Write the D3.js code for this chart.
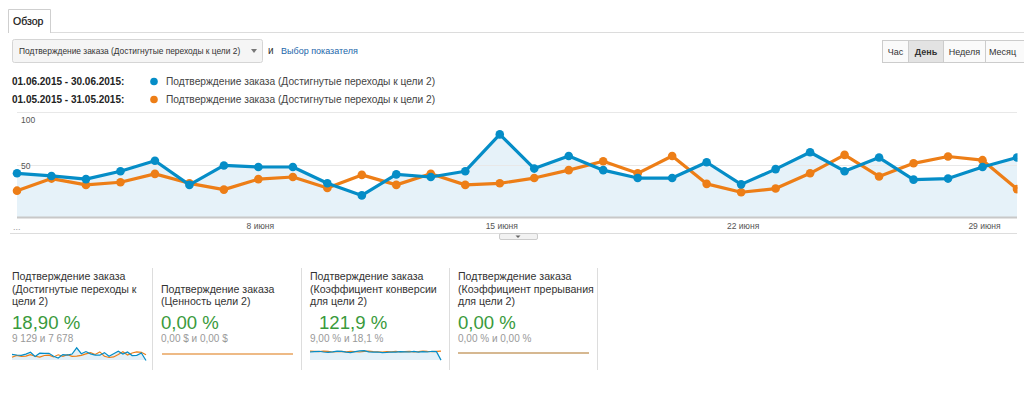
<!DOCTYPE html>
<html>
<head>
<meta charset="utf-8">
<script src="https://d3js.org/d3.v7.min.js"></script>
<style>
  body { margin: 0; background: #fff; }
  svg { display: block; font-family: "Liberation Sans", Arial, sans-serif; }
</style>
</head>
<body>
<svg width="1024" height="394"></svg>
<script>
// June 2015 (blue) vs May 2015 (orange), goal 2 completions per day
var juneValues = [42, 39.5, 36.5, 44, 54, 31, 49.5, 48, 48, 32.5, 21, 41, 38.5, 44, 79,
  46.5, 58.5, 45, 37.5, 37.5, 52.5, 31.5, 46, 62, 44, 57, 36, 37, 48, 57];
var mayValues = [25.5, 37, 31, 33.5, 41.5, 32.5, 26.5, 36.5, 38.5, 28, 40.5, 31, 41.5, 31, 32.5,
  37.5, 45, 53.5, 42, 58.5, 32, 24, 27.5, 42, 59.5, 39, 51.5, 58, 54.5, 27];
var tickDays = [7, 14, 21, 28];
var tickLabels = ["8 июня", "15 июня", "22 июня", "29 июня"];
var yTicks = [50, 100];

var legendRanges = ["01.06.2015 - 30.06.2015:", "01.05.2015 - 31.05.2015:"];
var metricName = "Подтверждение заказа (Достигнутые переходы к цели 2)";
var periodButtons = ["Час", "День", "Неделя", "Месяц"];

var cardTitles = [
  ["Подтверждение заказа", "(Достигнутые переходы к", "цели 2)"],
  ["Подтверждение заказа", "(Ценность цели 2)"],
  ["Подтверждение заказа", "(Коэффициент конверсии", "для цели 2)"],
  ["Подтверждение заказа", "(Коэффициент прерывания", "для цели 2)"]
];
var cardValues = ["18,90 %", "0,00 %", "121,9 %", "0,00 %"];
var cardSubs = ["9 129 и 7 678", "0,00 $ и 0,00 $", "9,00 % и 18,1 %", "0,00 % и 0,00 %"];

// sparklines of the scorecards
var spark1Blue = [42, 39, 37, 44, 54, 31, 49, 48, 48, 32, 22, 41, 38, 44, 79,
  46, 58, 45, 38, 38, 52, 32, 46, 60, 44, 56, 36, 37, 50, 8];
var spark1Orange = [26, 37, 31, 33, 41, 32, 27, 36, 38, 28, 40, 31, 41, 31, 33,
  37, 45, 52, 42, 56, 32, 25, 28, 42, 57, 39, 50, 56, 54, 40];
var spark3Blue = [50, 52, 54, 50, 48, 51, 55, 53, 49, 47, 52, 56, 58, 51, 49,
  50, 47, 48, 50, 49, 52, 51, 50, 53, 49, 52, 50, 54, 52, 5];
var spark3Orange = [55, 54, 52, 55, 53, 50, 52, 54, 51, 53, 52, 50, 53, 55, 52,
  51, 50, 52, 51, 53, 50, 52, 54, 51, 52, 55, 53, 52, 54, 55];

var blue = "#058dc7", orange = "#ed7e17";
var svg = d3.select("svg");

// ---- tab + toolbar
svg.append("line").attr("x1", 50).attr("x2", 1024).attr("y1", 32.5).attr("y2", 32.5).attr("stroke", "#dcdcdc");
svg.append("path").attr("d", "M8.5,33 V9.5 H50.5 V33").attr("fill", "#fff").attr("stroke", "#cfcfcf");
svg.append("text").attr("x", 13).attr("y", 25).attr("font-size", 10.5).attr("fill", "#111")
  .attr("stroke", "#111").attr("stroke-width", 0.2).text("Обзор");

svg.append("rect").attr("x", 12.5).attr("y", 39.5).attr("width", 250).attr("height", 23).attr("rx", 2)
  .attr("fill", "#f5f5f5").attr("stroke", "#d5d5d5");
svg.append("text").attr("x", 19).attr("y", 54).attr("font-size", 8.4).attr("fill", "#333").text(metricName);
svg.append("path").attr("d", "M251,49 h6 l-3,4 z").attr("fill", "#777");
svg.append("text").attr("x", 268).attr("y", 54).attr("font-size", 10).attr("fill", "#333").text("и");
svg.append("text").attr("x", 281).attr("y", 54).attr("font-size", 9).attr("fill", "#2266aa").text("Выбор показателя");

var btnX = [882, 908, 943, 985, 1030];
periodButtons.forEach(function (label, i) {
  var g = svg.append("g");
  g.append("rect").attr("x", btnX[i] + 0.5).attr("y", 40.5).attr("width", btnX[i + 1] - btnX[i]).attr("height", 22)
    .attr("fill", i === 1 ? "#e3e3e3" : "#fafafa").attr("stroke", "#cccccc");
  g.append("text").attr("x", i === 3 ? 989 : (btnX[i] + btnX[i + 1]) / 2 + 0.5).attr("y", 55)
    .attr("text-anchor", i === 3 ? "start" : "middle")
    .attr("font-size", 9).attr("font-weight", i === 1 ? "bold" : "normal").attr("fill", "#333")
    .text(label);
});

// ---- legend
[blue, orange].forEach(function (c, i) {
  var y = 85 + i * 18;
  svg.append("text").attr("x", 12).attr("y", y).attr("font-size", 10).attr("font-weight", "bold")
    .attr("fill", "#222").text(legendRanges[i]);
  svg.append("circle").attr("cx", 154).attr("cy", y - 3.5).attr("r", 3.8).attr("fill", c);
  svg.append("text").attr("x", 166).attr("y", y).attr("font-size", 10.2).attr("fill", "#444").text(metricName);
});

// ---- main chart
var x = d3.scaleLinear().domain([0, juneValues.length - 1]).range([17, 1017]);
var y = d3.scaleLinear().domain([0, 100]).range([217.5, 112.3]);

svg.append("defs").append("clipPath").attr("id", "clip")
  .append("rect").attr("x", 0).attr("y", 100).attr("width", 1017.5).attr("height", 130);

var plot = svg.append("g").attr("clip-path", "url(#clip)");

plot.append("path")
  .datum(juneValues)
  .attr("fill", "#e6f2f9")
  .attr("d", d3.area().x(function (d, i) { return x(i); }).y0(y(0)).y1(function (d) { return y(d); }));

plot.selectAll("line.grid")
  .data(yTicks)
  .enter()
  .append("line")
  .attr("class", "grid")
  .attr("x1", 17).attr("x2", 1017)
  .attr("y1", function (d) { return Math.round(y(d)) + 0.5; })
  .attr("y2", function (d) { return Math.round(y(d)) + 0.5; })
  .attr("stroke", "#e8e8e8");

plot.append("line").attr("x1", 17).attr("x2", 1017).attr("y1", 217.5).attr("y2", 217.5)
  .attr("stroke", "#c8c8c8").attr("stroke-width", 2);

svg.selectAll("text.ylab")
  .data(yTicks)
  .enter()
  .append("text")
  .attr("class", "ylab")
  .attr("x", 21)
  .attr("y", function (d) { return y(d) + (d === 100 ? 10.5 : 4.5); })
  .attr("font-size", 8.5)
  .attr("fill", "#555")
  .text(function (d) { return d; });

var line = d3.line().x(function (d, i) { return x(i); }).y(function (d) { return y(d); });

[[mayValues, orange], [juneValues, blue]].forEach(function (s, k) {
  plot.append("path").datum(s[0]).attr("fill", "none").attr("stroke", s[1])
    .attr("stroke-width", 3.2).attr("stroke-linejoin", "round").attr("d", line);
  plot.selectAll("circle.p" + k)
    .data(s[0])
    .enter()
    .append("circle")
    .attr("class", "p" + k)
    .attr("cx", function (d, i) { return x(i); })
    .attr("cy", function (d) { return y(d); })
    .attr("r", 4.3)
    .attr("fill", s[1]);
});

svg.selectAll("text.xlab")
  .data(tickDays)
  .enter()
  .append("text")
  .attr("class", "xlab")
  .attr("x", function (d) { return x(d) + 2; })
  .attr("y", 229)
  .attr("text-anchor", "middle")
  .attr("font-size", 8.5)
  .attr("fill", "#555")
  .text(function (d, i) { return tickLabels[i]; });
svg.append("text").attr("x", 13).attr("y", 230).attr("font-size", 9).attr("fill", "#999").text("...");

svg.append("line").attr("x1", 10).attr("x2", 1017).attr("y1", 233.5).attr("y2", 233.5).attr("stroke", "#dddddd");
svg.append("rect").attr("x", 499.5).attr("y", 233.5).attr("width", 38).attr("height", 6).attr("rx", 1.5)
  .attr("fill", "#f2f2f2").attr("stroke", "#cccccc");
svg.append("path").attr("d", "M515.5,235.5 h5 l-2.5,2.5 z").attr("fill", "#666");

// ---- scorecards
var cardX = [12, 161, 310, 458];
var dividers = [152, 301, 449, 597];
dividers.forEach(function (d) {
  svg.append("line").attr("x1", d + 0.5).attr("x2", d + 0.5).attr("y1", 268).attr("y2", 370).attr("stroke", "#dddddd");
});

cardTitles.forEach(function (lines, i) {
  var g = svg.append("g");
  var first = 305 - (lines.length - 1) * 12.5;
  lines.forEach(function (t, j) {
    g.append("text").attr("x", cardX[i]).attr("y", first + j * 12.5).attr("font-size", 10.6).attr("fill", "#333").text(t);
  });
  g.append("text").attr("x", cardX[i] + (i === 2 ? 9 : 0)).attr("y", 329).attr("font-size", 18.6)
    .attr("fill", "#3a9a3c").text(cardValues[i]);
  g.append("text").attr("x", cardX[i]).attr("y", 341.5).attr("font-size", 10).attr("fill", "#999").text(cardSubs[i]);
});

function sparkline(x0, x1, blueData, orangeData, lo, hi) {
  var sx = d3.scaleLinear().domain([0, blueData.length - 1]).range([x0, x1]);
  var sy = d3.scaleLinear().domain([0, 100]).range([lo, hi]);
  var sl = d3.line().x(function (d, i) { return sx(i); }).y(function (d) { return sy(d); });
  svg.append("path").datum(blueData).attr("fill", "#e3f0f8")
    .attr("d", d3.area().x(function (d, i) { return sx(i); }).y0(360).y1(function (d) { return sy(d); }));
  svg.append("path").datum(orangeData).attr("fill", "none").attr("stroke", orange).attr("stroke-width", 1.2).attr("d", sl);
  svg.append("path").datum(blueData).attr("fill", "none").attr("stroke", blue).attr("stroke-width", 1.2).attr("d", sl);
}
sparkline(12, 146, spark1Blue, spark1Orange, 362, 344);
sparkline(310, 441, spark3Blue, spark3Orange, 361, 343);

svg.append("line").attr("x1", 162).attr("x2", 293).attr("y1", 354).attr("y2", 354).attr("stroke", "#e9a35e").attr("stroke-width", 1.5);
svg.append("line").attr("x1", 458).attr("x2", 589).attr("y1", 353).attr("y2", 353).attr("stroke", "#c9a06c").attr("stroke-width", 1.5);
</script>
</body>
</html>
